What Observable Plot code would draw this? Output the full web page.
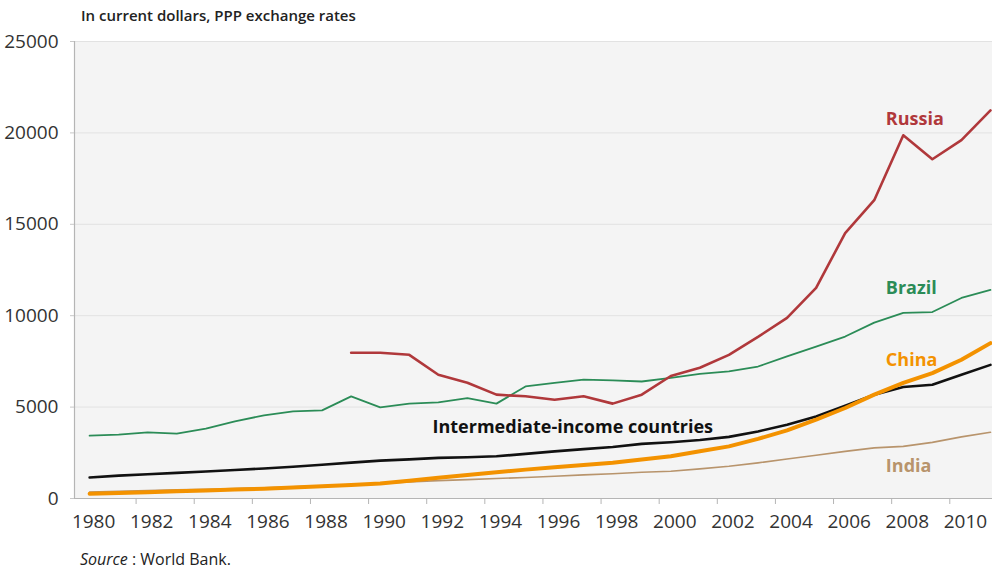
<!DOCTYPE html>
<html><head><meta charset="utf-8">
<script src="https://cdn.jsdelivr.net/npm/d3@7"></script>
<script src="https://cdn.jsdelivr.net/npm/@observablehq/plot@0.6"></script>
<style>
body{margin:0;background:#fff;font-family:"Open Sans",sans-serif;}
#title{height:28px;padding-left:81px;font-size:15px;font-weight:600;color:#222;line-height:30px;}
#caption{padding-left:80px;font-size:16px;color:#222;margin-top:8px;}
</style></head><body>
<div id="title">In current dollars, PPP exchange rates</div>
<div id="chart"></div>
<div id="caption"><i>Source</i> : World Bank.</div>
<script>
const years = [1980,1981,1982,1983,1984,1985,1986,1987,1988,1989,1990,1991,1992,1993,1994,1995,1996,1997,1998,1999,2000,2001,2002,2003,2004,2005,2006,2007,2008,2009,2010,2011];
const russia = [null,null,null,null,null,null,null,null,null,7970,7970,7860,6770,6330,5680,5590,5400,5590,5190,5680,6700,7150,7860,8840,9880,11520,14520,16320,19870,18560,19600,21230];
const brazil = [3440,3490,3620,3550,3820,4220,4550,4770,4820,5590,4990,5190,5260,5490,5190,6130,6330,6500,6460,6400,6600,6820,6950,7220,7770,8310,8860,9620,10150,10200,10970,11410];
const intermediate = [1150,1250,1330,1400,1480,1560,1640,1740,1850,1960,2070,2140,2220,2260,2310,2440,2580,2700,2820,2990,3080,3200,3370,3670,4040,4490,5080,5680,6100,6220,6770,7310];
const china = [260,300,340,390,440,490,540,600,670,740,820,970,1130,1290,1440,1580,1710,1830,1950,2130,2310,2580,2850,3260,3730,4310,4950,5680,6320,6860,7590,8500];
const india = [350,390,430,470,510,550,590,640,700,760,830,900,980,1030,1090,1150,1220,1290,1350,1440,1490,1620,1760,1950,2160,2370,2580,2770,2850,3070,3370,3620];

const yTicks = [0,5000,10000,15000,20000,25000];
const xLabelYears = [1980,1982,1984,1986,1988,1990,1992,1994,1996,1998,2000,2002,2004,2006,2008,2010];

const seriesNames = ["Brazil","Russia","India","Intermediate-income countries","China"];
const seriesValues = [brazil, russia, india, intermediate, china];
const seriesColors = ["#2b8c57","#b0383b","#b8946c","#111111","#f39200"];
const seriesWidths = [1.8,2.6,1.6,2.6,4];

// label anchors (year, value) for direct labels
const labelNames = ["Russia","Brazil","China","India","Intermediate-income countries"];
const labelYear = [2007.4,2007.4,2007.4,2007.4,1991.8];
const labelValue = [20730,11490,7550,1750,3880];
const labelColors = ["#b0383b","#2b8c57","#f39200","#b8946c","#111111"];

const rows = [];
seriesNames.forEach((s,i)=>{
  years.forEach((yr,j)=>{ if (seriesValues[i][j] != null) rows.push({series:s, year:yr, value:seriesValues[i][j]}); });
});
const labels = labelNames.map((t,i)=>({text:t, year:labelYear[i], value:labelValue[i], color:labelColors[i]}));

const xMin = 1979.48, xMax = 2011.07;

const marks = [
  Plot.frame({fill:"#f4f4f4", stroke:null}),
  Plot.gridY(yTicks.filter(d=>d>0), {stroke:"#e2e2e2", strokeOpacity:1, strokeWidth:1}),
  Plot.ruleY([0], {stroke:"#b5b5b5", strokeWidth:1.2}),
  Plot.ruleX([xMin], {stroke:"#b5b5b5", strokeWidth:1.2}),
  Plot.axisY(yTicks, {label:null, tickSize:4, tickPadding:12, tickFormat:d3.format("d"), fontSize:19, fill:"#333", stroke:"#c8c8c8"}),
  Plot.axisX(xLabelYears, {label:null, tickSize:0, tickPadding:16, tickFormat:d3.format("d"), fontSize:19, fill:"#333", dx:4}),
  Plot.axisX(xLabelYears.map(d=>d+1.6).filter(d=>d<xMax), {label:null, tickSize:6, tickFormat:()=>"", stroke:"#b5b5b5"}),
];
seriesNames.forEach((s,i)=>{
  marks.push(Plot.line(rows.filter(r=>r.series===s), {x:"year", y:"value", stroke:seriesColors[i], strokeWidth:seriesWidths[i], curve:"linear", strokeLinejoin:"round"}));
});
marks.push(Plot.text(labels, {x:"year", y:"value", text:"text", fill:"color", textAnchor:"start", fontSize:18, fontWeight:"bold", fontFamily:"Open Sans"}));

const chart = Plot.plot({
  width:992, height:512,
  marginTop:13, marginBottom:42, marginLeft:74, marginRight:0,
  style:{fontFamily:"Open Sans", background:"#fff", overflow:"visible"},
  x:{domain:[xMin,xMax], axis:null},
  y:{domain:[0,25000], axis:null},
  marks
});
document.getElementById("chart").appendChild(chart);
</script>
</body></html>
